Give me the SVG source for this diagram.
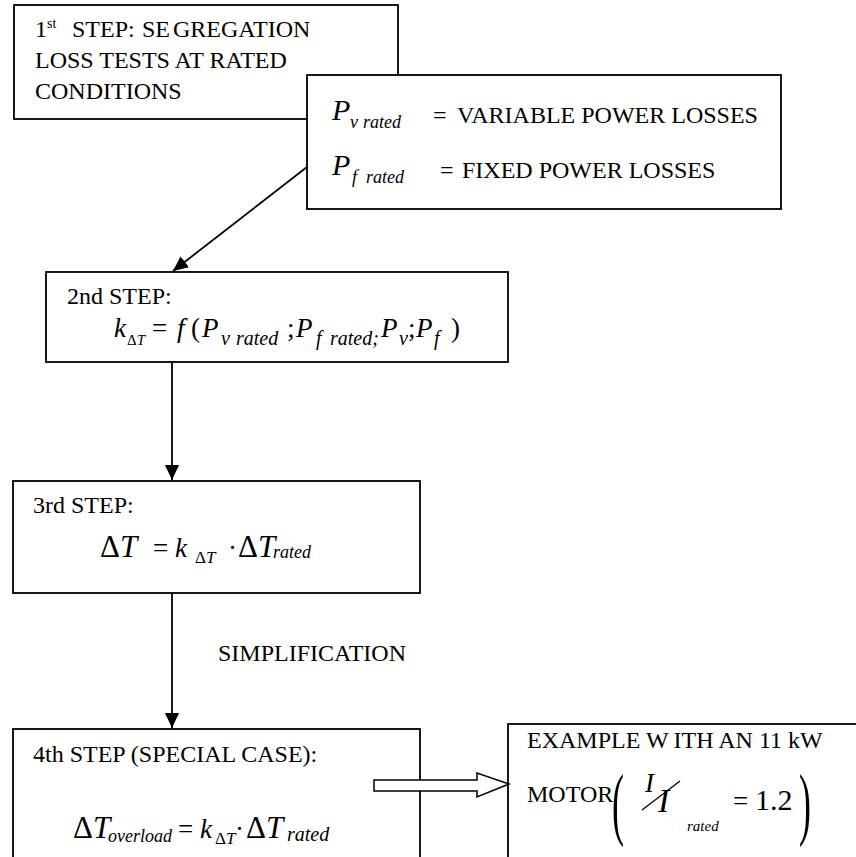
<svg xmlns="http://www.w3.org/2000/svg" width="856" height="857" viewBox="0 0 856 857">
  <style>
    .box { fill: #ffffff; stroke: #000000; stroke-width: 1.8; }
    .txt { font-family: "Liberation Serif", "Times New Roman", serif; font-size: 24px; fill: #000000; }
    .mi { font-family: "Liberation Serif", "Times New Roman", serif; font-style: italic; fill: #000000; }
    .mu { font-family: "Liberation Serif", "Times New Roman", serif; fill: #000000; }
    .conn { stroke: #000000; stroke-width: 1.8; fill: none; }
  </style>
  <defs>
    <marker id="arrow" viewBox="0 0 15 14" refX="15" refY="7" markerWidth="15" markerHeight="14" markerUnits="userSpaceOnUse" orient="auto">
      <path d="M0,0 L15,7 L0,14 z" fill="#000000"/>
    </marker>
  </defs>

  <!-- Step 1: loss segregation -->
  <g id="step1">
    <rect class="box" x="14" y="5" width="384" height="114"/>
    <text class="txt" y="37"><tspan x="35">1</tspan><tspan font-size="14" dy="-9">st</tspan><tspan x="72" dy="9">STEP:</tspan><tspan x="142">SE</tspan><tspan x="173">GREGATION</tspan></text>
    <text class="txt" x="35" y="68">LOSS TESTS AT RATED</text>
    <text class="txt" x="35" y="99">CONDITIONS</text>
  </g>

  <!-- Definitions of the rated losses -->
  <g id="losses">
    <rect class="box" x="307" y="75" width="474" height="134"/>
    <text class="mi" font-size="30" x="332" y="120">P</text>
    <text class="mi" font-size="18" y="128"><tspan x="350">v</tspan><tspan x="363">rated</tspan></text>
    <text class="txt" font-size="24.5" y="123"><tspan x="433">=</tspan><tspan x="457">VARIABLE POWER LOSSES</tspan></text>
    <text class="mi" font-size="30" x="332" y="175">P</text>
    <text class="mi" font-size="18" y="183"><tspan x="352">f</tspan><tspan x="366">rated</tspan></text>
    <text class="txt" font-size="24.5" y="178"><tspan x="440">=</tspan><tspan x="462">FIXED POWER LOSSES</tspan></text>
  </g>

  <!-- Step 2: temperature coefficient -->
  <g id="step2">
    <rect class="box" x="46" y="272" width="462" height="90"/>
    <text class="txt" x="67" y="304">2nd STEP:</text>
    <text class="mi" font-size="27" x="114" y="337">k</text>
    <text font-size="15" y="345"><tspan class="mu" x="127">Δ</tspan><tspan class="mi">T</tspan></text>
    <text class="mu" font-size="27" x="152" y="337">=</text>
    <text class="mi" font-size="27" x="177" y="337">f</text>
    <text class="mu" font-size="27" x="191" y="337">(</text>
    <text class="mi" font-size="27" x="202" y="337">P</text>
    <text class="mi" font-size="20" y="345"><tspan x="221">v</tspan><tspan x="236">rated</tspan></text>
    <text class="mu" font-size="27" x="287" y="337">;</text>
    <text class="mi" font-size="27" x="296" y="337">P</text>
    <text class="mi" font-size="20" y="345"><tspan x="316">f</tspan><tspan x="330">rated</tspan><tspan class="mu">;</tspan></text>
    <text class="mi" font-size="27" x="381" y="337">P</text>
    <text class="mi" font-size="20" x="399" y="345">v</text>
    <text class="mu" font-size="27" x="408" y="337">;</text>
    <text class="mi" font-size="27" x="416" y="337">P</text>
    <text class="mi" font-size="20" x="434" y="345">f</text>
    <text class="mu" font-size="27" x="451" y="337">)</text>
  </g>

  <!-- Step 3: temperature rise -->
  <g id="step3">
    <rect class="box" x="13" y="481" width="407" height="112"/>
    <text class="txt" font-size="24.5" x="33" y="513">3rd STEP:</text>
    <text font-size="31" y="557"><tspan class="mu" x="100">Δ</tspan><tspan class="mi">T</tspan></text>
    <text class="mu" font-size="27" x="153" y="557">=</text>
    <text class="mi" font-size="27" x="175" y="557">k</text>
    <text font-size="17" y="563"><tspan class="mu" x="195">Δ</tspan><tspan class="mi">T</tspan></text>
    <text class="mu" font-size="27" x="228" y="557">·</text>
    <text font-size="31" y="557"><tspan class="mu" x="238">Δ</tspan><tspan class="mi">T</tspan></text>
    <text class="mi" font-size="18" x="273" y="558">rated</text>
  </g>

  <!-- Step 4: overload case -->
  <g id="step4">
    <rect class="box" x="13" y="729" width="407" height="140"/>
    <text class="txt" font-size="24.5" x="33" y="762">4th STEP (SPECIAL CASE):</text>
    <text font-size="31" y="838"><tspan class="mu" x="73">Δ</tspan><tspan class="mi">T</tspan></text>
    <text class="mi" font-size="18" x="108" y="842">overload</text>
    <text class="mu" font-size="27" x="178" y="838">=</text>
    <text class="mi" font-size="27" x="200" y="838">k</text>
    <text font-size="17" y="844"><tspan class="mu" x="215">Δ</tspan><tspan class="mi">T</tspan></text>
    <text class="mu" font-size="27" x="235" y="838">·</text>
    <text font-size="31" y="838"><tspan class="mu" x="246">Δ</tspan><tspan class="mi">T</tspan></text>
    <text class="mi" font-size="20" x="287" y="841">rated</text>
  </g>

  <!-- Worked example -->
  <g id="example">
    <rect class="box" x="508" y="724" width="360" height="150"/>
    <text class="txt" font-size="25.5" y="748"><tspan x="527">EXAMPLE </tspan><tspan>W</tspan><tspan dx="5">ITH AN 11 kW</tspan></text>
    <text class="txt" font-size="23" x="527" y="802">MOTOR</text>
    <text class="mu" font-size="80" transform="translate(612 830) scale(0.45 1)" x="0" y="0">(</text>
    <text class="mi" font-size="27" x="645" y="792">I</text>
    <line x1="642" y1="810" x2="680" y2="781" stroke="#000000" stroke-width="1.3"/>
    <text class="mi" font-size="34" x="658" y="812">I</text>
    <text class="mi" font-size="15" x="687" y="831">rated</text>
    <text class="mu" font-size="27" x="733" y="810">=</text>
    <text class="mu" font-size="30" x="755" y="810">1.2</text>
    <text class="mu" font-size="80" transform="translate(799 830) scale(0.45 1)" x="0" y="0">)</text>
  </g>

  <!-- Connectors -->
  <g id="connectors">
    <line class="conn" x1="307" y1="167" x2="173" y2="271" marker-end="url(#arrow)"/>
    <line class="conn" x1="172" y1="362" x2="172" y2="480" marker-end="url(#arrow)"/>
    <line class="conn" x1="172" y1="593" x2="172" y2="728" marker-end="url(#arrow)"/>
    <text class="txt" x="218" y="661">SIMPLIFICATION</text>
    <polygon points="374,780 477,780 477,773 509,784 477,797 477,791 374,791" fill="#ffffff" stroke="#000000" stroke-width="1.5"/>
  </g>
</svg>
